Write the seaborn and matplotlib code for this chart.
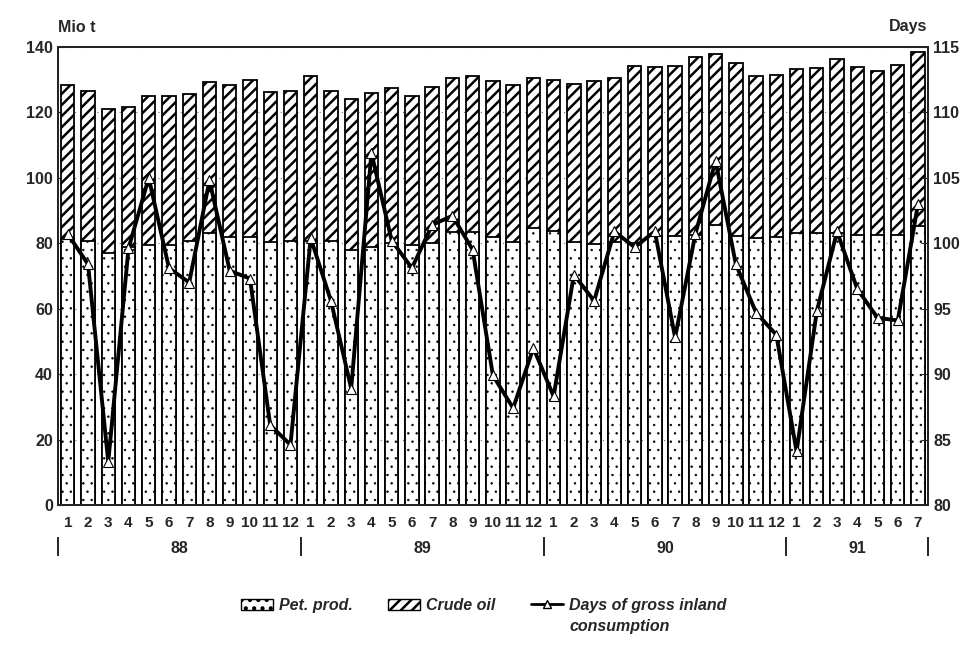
import numpy as np
import pandas as pd
import seaborn as sns
import matplotlib.pyplot as plt
from matplotlib.lines import Line2D
from matplotlib.patches import Patch

# monthly stocks, 1/88 .. 7/91
months = list(range(1, 13)) * 3 + list(range(1, 8))
years = ["88", "89", "90", "91"]
year_len = [12, 12, 12, 7]

# total stocks (pet. prod. + crude oil), Mio t
total = [128.4, 126.6, 121.0, 121.5, 124.9, 125.0, 125.7, 129.4, 128.4, 130.0, 126.3, 126.5,
         131.0, 126.6, 124.0, 126.0, 127.4, 125.0, 127.7, 130.5, 131.0, 129.6, 128.4, 130.5,
         129.8, 128.7, 129.6, 130.5, 134.3, 133.8, 134.3, 136.9, 137.8, 135.0, 131.2, 131.5,
         133.2, 133.5, 136.3, 134.0, 132.5, 134.4, 138.6]
# petroleum products, Mio t
pet_prod = [81.2, 80.8, 77.0, 78.8, 79.5, 79.5, 80.8, 83.0, 82.0, 82.0, 80.5, 80.8,
            80.8, 80.8, 78.0, 78.8, 80.0, 79.5, 80.0, 83.3, 83.3, 82.0, 80.5, 84.6,
            83.6, 80.3, 79.7, 80.5, 80.0, 82.2, 82.2, 82.5, 85.6, 82.2, 81.5, 82.0,
            83.0, 83.0, 83.0, 82.5, 82.5, 82.5, 85.3]
# days of gross inland consumption
days = [100.7, 98.4, 83.3, 99.6, 105.0, 98.1, 97.0, 104.8, 97.9, 97.3, 86.1, 84.6,
        100.4, 95.6, 88.9, 106.9, 100.2, 98.1, 101.4, 102.1, 99.5, 89.9, 87.4, 92.0,
        88.3, 97.6, 95.6, 100.9, 99.7, 100.9, 92.8, 100.7, 106.3, 98.4, 94.7, 93.0,
        84.1, 94.8, 100.9, 96.5, 94.3, 94.1, 103.0]

df = pd.DataFrame({"i": np.arange(len(months)), "month": months,
                   "total": total, "pet": pet_prod, "days": days})

sns.set_style("white")
plt.rcParams["font.family"] = ["Liberation Sans", "DejaVu Sans"]
plt.rcParams["font.weight"] = "bold"
plt.rcParams["hatch.linewidth"] = 1.8

fig, ax = plt.subplots(figsize=(9.77, 6.52), dpi=100)
fig.subplots_adjust(left=0.059, right=0.95, top=0.928, bottom=0.2255)

# stacked bars: full height hatched (crude oil), pet. prod. dotted on top of it
sns.barplot(data=df, x="i", y="total", color="white", saturation=1, width=0.66,
            edgecolor="black", linewidth=1.3, hatch="///", ax=ax, zorder=2)
n_crude = len(ax.patches)
sns.barplot(data=df, x="i", y="pet", color="white", saturation=1, width=0.66,
            edgecolor="black", linewidth=1.3, hatch="..", ax=ax, zorder=3)
for p in ax.patches[n_crude:]:
    if hasattr(p, "set_hatch_linewidth"):
        p.set_hatch_linewidth(0.5)

ax.set_xlim(-0.5, len(months) - 0.5)
ax.set_ylim(0, 140)
ax.set_yticks(range(0, 141, 20))
ax.set_axisbelow(True)
ax.grid(axis="y", linestyle=(0, (1, 4)), color="0.45", linewidth=0.8)
ax.set_xlabel("")
ax.set_ylabel("")
ax.set_xticks(df["i"])
ax.set_xticklabels(months)
ax.set_xticks(np.arange(-0.5, len(months), 1), minor=True)
ax.tick_params(axis="x", which="major", length=0, pad=8, labelsize=11)
ax.tick_params(axis="x", which="minor", direction="in", length=5, width=1)
ax.tick_params(axis="y", direction="in", length=5, labelsize=11.5)
for s in ax.spines.values():
    s.set_linewidth(1.3)
    s.set_color("black")

ax2 = ax.twinx()
sns.lineplot(data=df, x="i", y="days", ax=ax2, color="black", linewidth=2.8,
             marker="^", markersize=6.5, markerfacecolor="white",
             markeredgecolor="black", markeredgewidth=0.8)
ax2.set_ylim(80, 115)
ax2.set_yticks(range(80, 116, 5))
ax2.set_ylabel("")
ax2.set_xlabel("")
ax2.tick_params(axis="y", direction="in", length=5, labelsize=11.5)
for s in ax2.spines.values():
    s.set_linewidth(1.3)

# year groups under the month labels
trans = ax.get_xaxis_transform()
bounds = np.concatenate([[0], np.cumsum(year_len)]) - 0.5
ax.vlines(bounds, -0.112, -0.07, transform=trans, clip_on=False,
          color="black", linewidth=1.2)
for y, a, b in zip(years, bounds[:-1], bounds[1:]):
    ax.text((a + b) / 2, -0.094, y, transform=trans, ha="center", va="center",
            fontsize=11.5, fontweight="bold")

fig.text(0.059, 1 - 27 / 652, "Mio t", ha="left", va="center", fontsize=11.5, fontweight="bold")
fig.text(0.949, 1 - 27 / 652, "Days", ha="right", va="center", fontsize=11.5, fontweight="bold")

pet_handle = Patch(facecolor="white", edgecolor="black", hatch="..", linewidth=1)
if hasattr(pet_handle, "set_hatch_linewidth"):
    pet_handle.set_hatch_linewidth(0.5)
handles = [pet_handle,
           Patch(facecolor="white", edgecolor="black", hatch="///", linewidth=1),
           Line2D([], [], color="black", linewidth=2, marker="^", markersize=6,
                  markerfacecolor="white", markeredgecolor="black")]
labels = ["Pet. prod.", "Crude oil", "Days of gross inland"]
leg = fig.legend(handles, labels, loc="upper center", bbox_to_anchor=(0.495, 0.105),
                 ncol=3, frameon=False, handlelength=2.0, handletextpad=0.4,
                 columnspacing=2.2, prop={"weight": "bold", "style": "italic", "size": 11.5})

fig.canvas.draw()
bb = leg.get_texts()[2].get_window_extent().transformed(fig.transFigure.inverted())
fig.text(bb.x0, bb.y0 - 0.01, "consumption", ha="left", va="top",
         fontsize=11.5, fontweight="bold", fontstyle="italic")

fig.savefig("out.png", dpi=100)
